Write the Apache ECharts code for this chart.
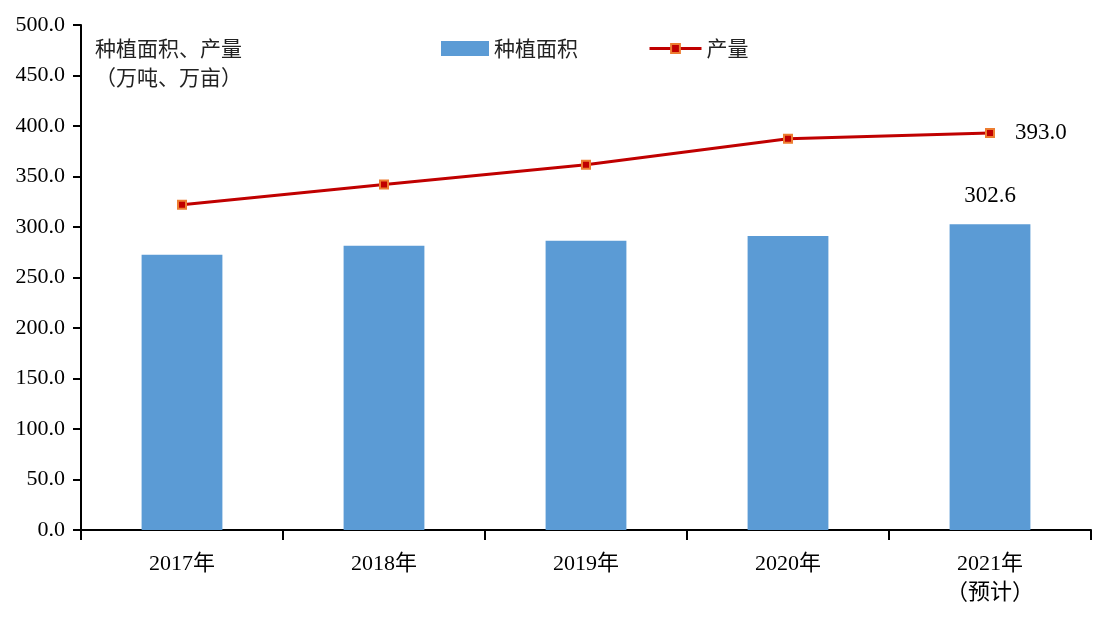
<!DOCTYPE html>
<html>
<head>
<meta charset="utf-8">
<script src="https://cdn.jsdelivr.net/npm/echarts@6/dist/echarts.min.js"></script>
<style>html,body{margin:0;padding:0;background:#fff}#c{width:1104px;height:628px}</style>
</head>
<body>
<div id="c"></div>
<script>
const categories = ['2017年', '2018年', '2019年', '2020年', '2021年\n（预计）'];
const areaValues = [272.6, 281.5, 286.4, 291.0, 302.6];
const outputValues = [322.0, 342.0, 361.6, 387.3, 393.0];
const yTicks = { min: 0, max: 500, interval: 50 };

const FONT = '"Liberation Serif", "Noto Sans CJK SC", serif';
const CJK = '"Noto Sans CJK SC", sans-serif';
const last = categories.length - 1;

const chart = echarts.init(document.getElementById('c'));
chart.setOption({
  animation: false,
  backgroundColor: '#fff',
  grid: { left: 81, right: 13, top: 25, bottom: 98 },
  title: {
    text: '种植面积、产量\n（万吨、万亩）',
    left: 90, top: 29,
    textStyle: { fontFamily: CJK, fontSize: 21, fontWeight: 'normal', color: '#222', lineHeight: 29 }
  },
  legend: [
    { data: [{ name: '种植面积', icon: 'rect' }], left: 436, top: 33, itemWidth: 48, itemHeight: 15, itemGap: 10,
      textStyle: { fontFamily: CJK, fontSize: 21, color: '#222' } },
    { data: ['产量'], left: 643, top: 33, itemWidth: 52, itemHeight: 11,
      lineStyle: { width: 3 },
      textStyle: { fontFamily: CJK, fontSize: 21, color: '#222' } }
  ],
  xAxis: {
    type: 'category',
    data: categories,
    axisLine: { lineStyle: { color: '#000', width: 2 } },
    axisTick: { show: true, length: 10, lineStyle: { color: '#000', width: 2 } },
    axisLabel: { fontFamily: FONT, fontSize: 22, color: '#000', margin: 20, lineHeight: 29 }
  },
  yAxis: {
    type: 'value',
    min: yTicks.min, max: yTicks.max, interval: yTicks.interval,
    splitLine: { show: false },
    axisLine: { show: true, lineStyle: { color: '#000', width: 2 } },
    axisTick: { show: true, length: 8, lineStyle: { color: '#000', width: 2 } },
    axisLabel: { fontFamily: FONT, fontSize: 22, color: '#000', margin: 16,
      formatter: v => v.toFixed(1) }
  },
  series: [
    {
      name: '种植面积', type: 'bar', barWidth: '40%',
      itemStyle: { color: '#5B9BD5' },
      data: areaValues.map((v, i) => i === last ? {
        value: v,
        label: { show: true, position: 'top', distance: 17, fontFamily: FONT, fontSize: 23, color: '#000',
          formatter: p => p.value.toFixed(1) }
      } : v)
    },
    {
      name: '产量', type: 'line',
      symbol: 'rect', symbolSize: 8,
      lineStyle: { color: '#C00000', width: 3 },
      itemStyle: { color: '#C00000', borderColor: '#ED7D31', borderWidth: 2 },
      data: outputValues.map((v, i) => i === last ? {
        value: v,
        label: { show: true, position: 'right', distance: 20, fontFamily: FONT, fontSize: 23, color: '#000',
          formatter: p => p.value.toFixed(1) }
      } : v)
    }
  ]
});
</script>
</body>
</html>
